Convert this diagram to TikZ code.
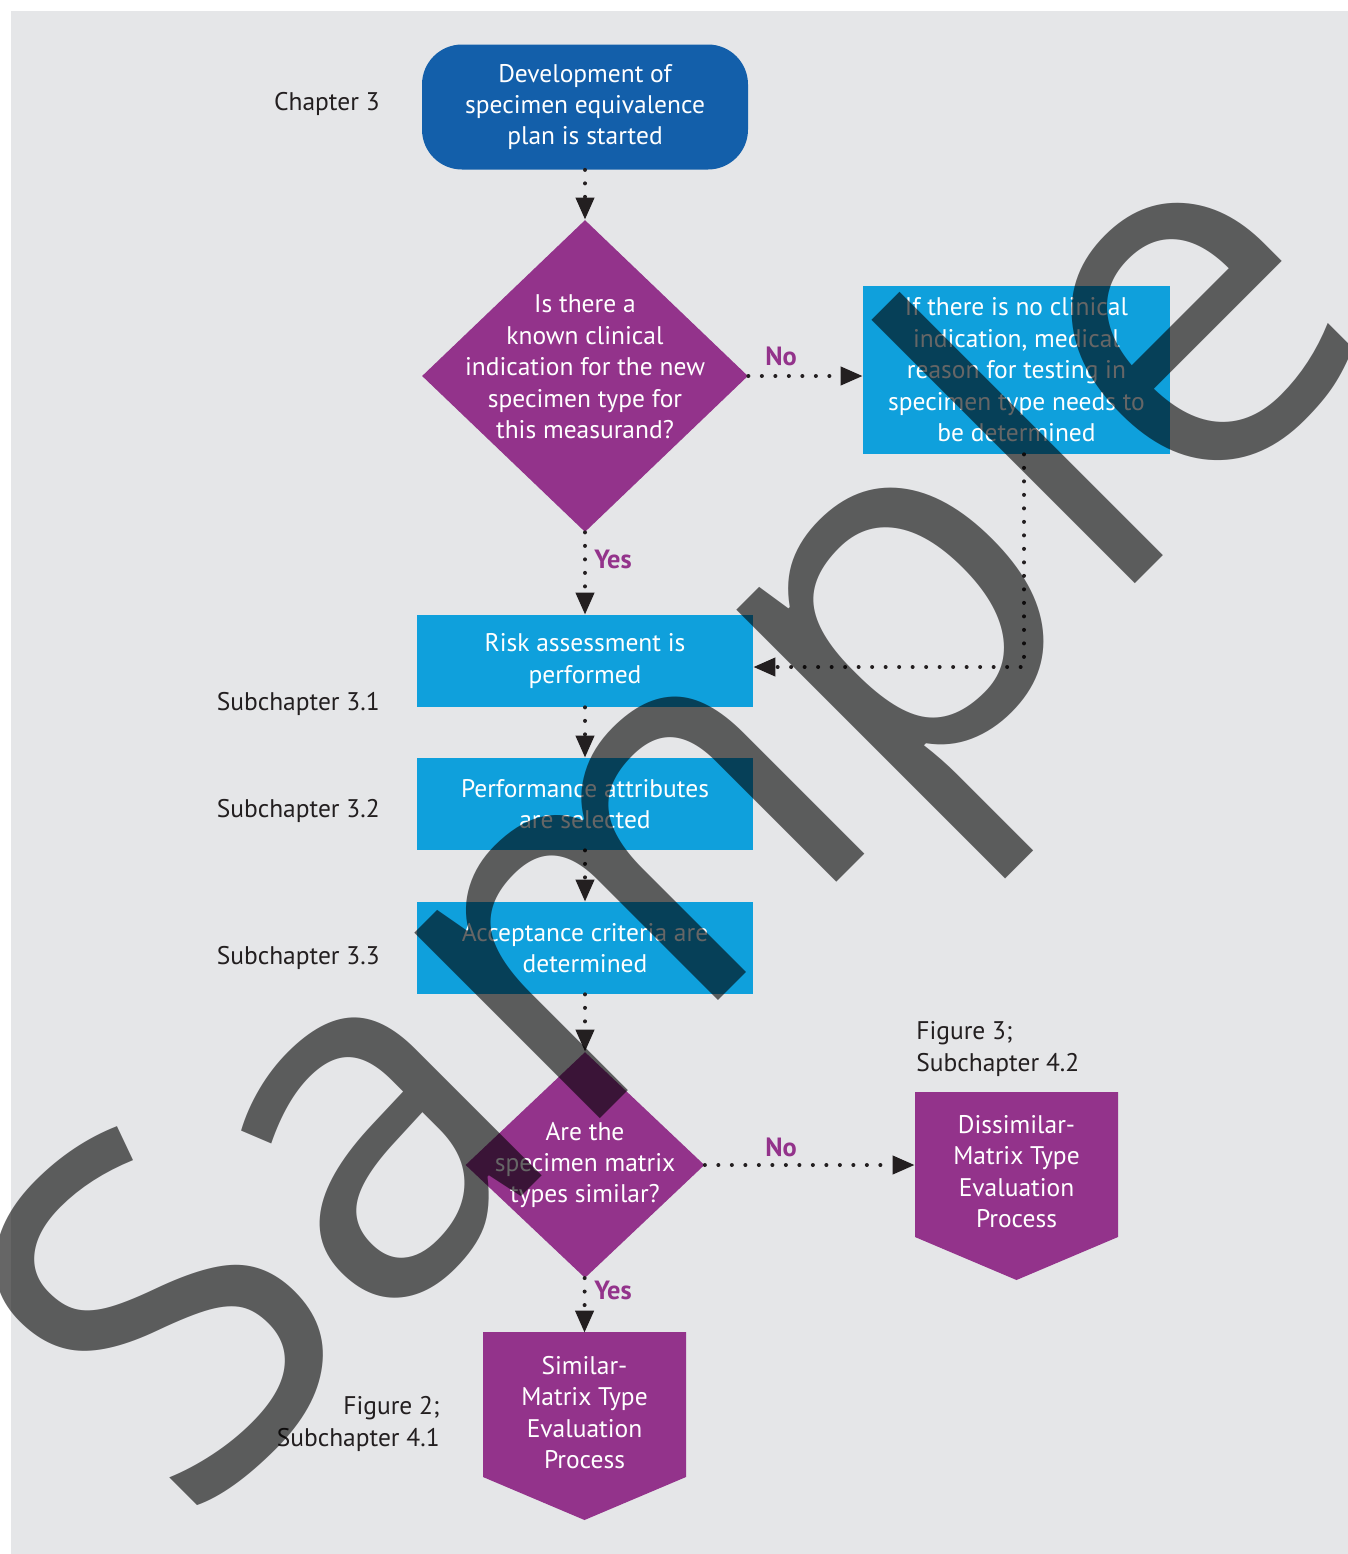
\documentclass[tikz,border=0pt]{standalone}
\usepackage{fontspec}
\setmainfont{PT Sans}
\newfontfamily\markfont{Open Sans}
\usetikzlibrary{positioning,shapes.geometric,arrows.meta,calc}

\definecolor{darkblue}{HTML}{135FAA}
\definecolor{skyblue}{HTML}{0FA0DC}
\definecolor{plum}{HTML}{93338B}
\definecolor{paper}{HTML}{E5E6E8}
\definecolor{ink}{HTML}{231F20}

\tikzset{
  startbox/.style={fill=darkblue, rounded corners=0.8cm, minimum width=6.52cm, minimum height=2.5cm, text=white, align=center, inner sep=0pt},
  stepbox/.style={fill=skyblue, minimum width=6.72cm, minimum height=1.84cm, text=white, align=center, inner sep=0pt},
  decision/.style={diamond, fill=plum, inner sep=0pt},
  dtext/.style={text=white, align=center},
  endbox/.style={minimum width=4.06cm, minimum height=2.9cm, text=white, align=center, inner sep=0pt},
  flow/.style={ink, line width=0.08cm, line cap=round, dash pattern=on 0pt off 0.27cm, -{Triangle[length=0.44cm,width=0.36cm]}},
  chap/.style={text=ink, anchor=east, inner sep=0pt},
  answer/.style={text=plum, font=\fontsize{15}{18}\selectfont\bfseries},
}

\begin{document}
\begin{tikzpicture}[font=\fontsize{14.5}{17.9}\selectfont]

% Frame
\useasboundingbox (0,0) rectangle (26.96,-31.08);
\fill[paper] (0.22,-0.22) rectangle (26.96,-31.08);

% End process shapes (drawn first, text nodes on top)
\fill[plum] (18.3,-21.84) -- (22.36,-21.84) -- (22.36,-24.74) -- (20.33,-25.6) -- (18.3,-24.74) -- cycle;
\fill[plum] (9.66,-26.64) -- (13.72,-26.64) -- (13.72,-29.54) -- (11.69,-30.4) -- (9.66,-29.54) -- cycle;

% Main column
\node[startbox] (start) at (11.7,-2.14) {Development of\\specimen equivalence\\plan is started};

\node[decision, minimum width=6.52cm, minimum height=6.24cm] (q1) at (11.7,-7.52) {};
\node[dtext] (q1t) at ([yshift=0.18cm]q1.center) {Is there a\\known clinical\\indication for the new\\specimen type for\\this measurand?};

\node[stepbox, minimum width=6.14cm, minimum height=3.36cm] (ind) at (20.33,-7.4) {If there is no clinical\\indication, medical\\reason for testing in\\specimen type needs to\\be determined};

\node[stepbox] (risk) at (11.7,-13.22) {Risk assessment is\\performed};
\node[stepbox] (perf) at (11.7,-16.08) {Performance attributes\\are selected};
\node[stepbox] (acc) at (11.7,-18.96) {Acceptance criteria are\\determined};

\node[decision, minimum width=4.78cm, minimum height=4.52cm] (q2) at (11.7,-23.3) {};
\node[dtext] (q2t) at (q2) {Are the\\specimen matrix\\types similar?};

% End processes
\node[endbox] (dis) at (20.33,-23.43) {Dissimilar-\\Matrix Type\\Evaluation\\Process};
\node[endbox] (sim) at (11.69,-28.25) {Similar-\\Matrix Type\\Evaluation\\Process};

% Chapter references
\node[chap] (c3) at (7.6,-2.08) {Chapter 3};
\node[chap] (c31) at (7.6,-14.08) {Subchapter 3.1};
\node[chap] (c32) at (7.6,-16.22) {Subchapter 3.2};
\node[chap] (c33) at (7.6,-19.16) {Subchapter 3.3};
\node[text=ink, anchor=west, align=left, inner sep=0pt] (f3) at (18.32,-20.98) {Figure 3;\\Subchapter 4.2};
\node[text=ink, anchor=east, align=right, inner sep=0pt] (f2) at (8.8,-28.48) {Figure 2;\\Subchapter 4.1};

% Connectors
\draw[flow] (start) -- (q1);
\draw[flow] (q1.east) -- (q1.east -| ind.west);
\draw[flow] (q1) -- (risk);
\coordinate (turn) at (20.48,-13.34);
\draw[flow] (ind.south -| turn) |- ([yshift=-0.12cm]risk.east);
\draw[flow] (risk) -- (perf);
\draw[flow] (perf) -- (acc);
\draw[flow] (acc) -- (q2);
\draw[flow] (q2.east) -- (q2.east -| dis.west);
\draw[flow] (q2) -- ([yshift=0.14cm]sim.north);

% Answers
\node[answer] (no1) at (15.62,-7.12) {No};
\node[answer] (yes1) at (12.26,-11.18) {Yes};
\node[answer] (no2) at (15.62,-22.94) {No};
\node[answer] (yes2) at (12.26,-25.8) {Yes};

% Watermark
\node[rotate=45, anchor=base, inner sep=0pt, text=black, text opacity=0.6, font=\markfont\fontsize{279}{279}\selectfont] (mark) at (15.75,-18.62) {Sample};

\end{tikzpicture}
\end{document}
